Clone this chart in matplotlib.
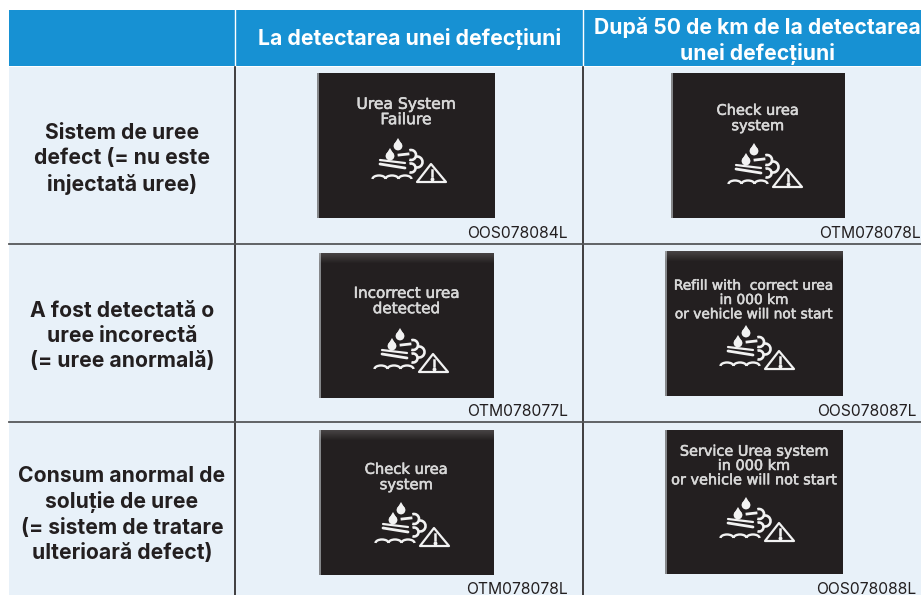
import matplotlib
matplotlib.use('Agg')
import matplotlib.pyplot as plt
import matplotlib.patheffects as pe
from matplotlib.patches import Rectangle, Polygon, Circle, Arc

headers = ['La detectarea unei defecțiuni', 'După 50 de km de la detectarea\nunei defecțiuni']
row_labels = [
    'Sistem de uree\ndefect (= nu este\ninjectată uree)',
    'A fost detectată o\nuree incorectă\n(= uree anormală)',
    'Consum anormal de\nsoluție de uree\n(= sistem de tratare\nulterioară defect)',
]
messages = [
    'Urea System\nFailure', 'Check urea\nsystem',
    'Incorrect urea\ndetected', 'Refill with  correct urea\nin 000 km\nor vehicle will not start',
    'Check urea\nsystem', 'Service Urea system\nin 000 km\nor vehicle will not start',
]
codes = ['OOS078084L', 'OTM078078L', 'OTM078077L', 'OOS078087L', 'OTM078078L', 'OOS078088L']

# left, top, right, bottom of each screen, in pixels
panels = [(317, 73, 495, 218), (671, 73, 845, 218), (319, 253, 494, 398),
          (665, 251, 843, 396), (319, 430, 494, 575), (665, 430, 843, 574)]
msg_y = [112, 118, 301, 300, 477, 466]
msg_size = [11.2, 10.5, 10.9, 9.9, 10.6, 10.4]
faded_top = [False, False, True, True, True, False]
icon_xy = [(373, 138), (729, 143), (375, 328), (721, 325), (376, 502), (721, 497)]
code_xy = [(568, 233), (921, 233), (568, 411), (916, 411), (568, 589), (916, 589)]
label_y = [159, 336, 514.5]

BLUE = '#1791d3'
BODY = '#e8f1f9'
DARK = '#231f20'
ICON = '#f2f2f2'
FONT = ['Inter', 'DejaVu Sans']


def draw_icon(ax, x0, y0):
    # droplets
    for cx, cy, r in [(25, 8, 4.4), (17, 18, 4.4)]:
        ax.add_patch(Circle((x0 + cx, y0 + cy), r, color=ICON, lw=0))
        ax.add_patch(Polygon([(x0 + cx - r + .5, y0 + cy - 1.5), (x0 + cx, y0 + cy - 8),
                              (x0 + cx + r - .5, y0 + cy - 1.5)], color=ICON, lw=0))
    # pipe
    ax.plot([x0 + 7, x0 + 32], [y0 + 26, y0 + 30], color=ICON, lw=2, solid_capstyle='round')
    ax.plot([x0 + 7, x0 + 32], [y0 + 22, y0 + 25], color=ICON, lw=1.6, solid_capstyle='round')
    ax.plot([x0 + 26, x0 + 35], [y0 + 17, y0 + 16], color=ICON, lw=2)
    # exhaust curls
    for cx, cy, d in [(38, 17, 10), (44, 24, 11), (38, 30, 9)]:
        ax.add_patch(Arc((x0 + cx, y0 + cy), d, d, theta1=-110, theta2=110, color=ICON, lw=1.9))
    # waves
    for i in range(3):
        ax.add_patch(Arc((x0 + 6 + i * 13, y0 + 41), 13, 7, theta1=180, theta2=360, color=ICON, lw=1.7))
    # warning triangle
    ax.add_patch(Polygon([(x0 + 44, y0 + 44), (x0 + 58, y0 + 26), (x0 + 73, y0 + 44)],
                         closed=True, fill=False, ec=ICON, lw=1.6, joinstyle='round'))
    ax.plot([x0 + 58.5, x0 + 58.5], [y0 + 32, y0 + 38], color=ICON, lw=1.8)
    ax.plot([x0 + 58.5], [y0 + 41], 'o', color=ICON, ms=1.8)


fig = plt.figure(figsize=(9.21, 5.95), dpi=100)
ax = fig.add_axes([0, 0, 1, 1])
ax.set_xlim(0, 921)
ax.set_ylim(595, 0)
ax.axis('off')

ax.add_patch(Rectangle((9, 10), 912, 56, color=BLUE, lw=0))
ax.add_patch(Rectangle((9, 67), 912, 528, color=BODY, lw=0))

# grid lines
for x in [235, 583]:
    ax.plot([x, x], [10, 66], color='white', lw=1)
    ax.plot([x, x], [67, 595], color=DARK, lw=1.2)
for y in [244, 422]:
    ax.plot([9, 921], [y, y], color='#55585a', lw=1.3)

ax.text(409.5, 39.5, headers[0], color='white', fontsize=15.3, fontweight='bold', family=FONT,
        ha='center', va='center')
ax.text(757, 41, headers[1], color='white', fontsize=15.2, fontweight='bold', family=FONT,
        ha='center', va='center', linespacing=1.3)

for label, y in zip(row_labels, label_y):
    ax.text(122, y, label, color=DARK, fontsize=15.2, fontweight='bold', family=FONT,
            ha='center', va='center', linespacing=1.32)

for i, (l, t, r, b) in enumerate(panels):
    ax.add_patch(Rectangle((l, t), r - l, b - t, color=DARK, lw=0))
    ax.add_patch(Rectangle((l, t), 1.6, b - t, color='#85878a', lw=0))
    if faded_top[i]:
        for k in range(10):
            ax.add_patch(Rectangle((l, t + k), r - l, 1, color='white', alpha=0.16 * (1 - k / 10), lw=0))
    ax.text((l + r) / 2, msg_y[i], messages[i], color='#d8d8d8', fontsize=msg_size[i], family='DejaVu Sans',
            ha='center', va='center', linespacing=1.03,
            path_effects=[pe.withStroke(linewidth=0.4, foreground='#d8d8d8')])
    draw_icon(ax, *icon_xy[i])
    ax.text(code_xy[i][0], code_xy[i][1], codes[i], color=DARK, fontsize=11.3, family=FONT,
            ha='right', va='center')

fig.savefig('out.png', dpi=100)
